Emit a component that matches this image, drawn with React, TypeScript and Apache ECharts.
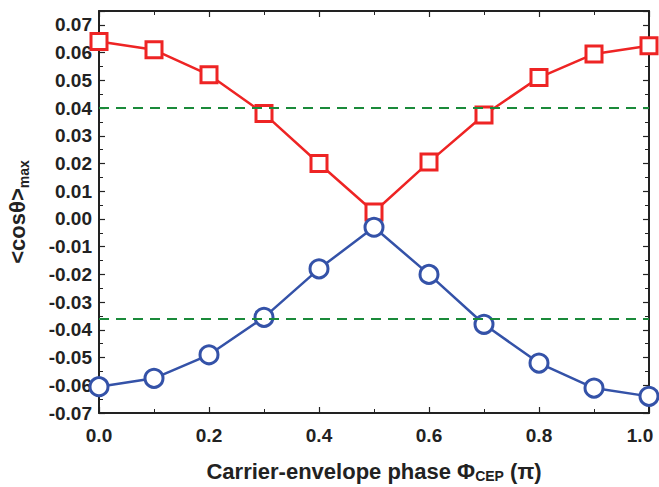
import React, { useEffect, useRef } from "react";
import * as echarts from "echarts";

const phases = [0, 0.1, 0.2, 0.3, 0.4, 0.5, 0.6, 0.7, 0.8, 0.9, 1.0];
const redValues = [0.064, 0.061, 0.052, 0.038, 0.020, 0.0025, 0.0205, 0.0375, 0.051, 0.0595, 0.0625];
const blueValues = [-0.0605, -0.0575, -0.049, -0.0355, -0.018, -0.003, -0.020, -0.038, -0.052, -0.061, -0.064];
const thresholds = [0.040, -0.036];
const xTicks = [0, 0.2, 0.4, 0.6, 0.8, 1.0];

const FONT = "Liberation Sans";

export default function App() {
  const ref = useRef<HTMLDivElement>(null);
  useEffect(() => {
    if (!ref.current) return;
    const chart = echarts.init(ref.current, null, { renderer: "svg" });
    const axisLine = { show: true, onZero: false, lineStyle: { color: "#222", width: 2 } };
    const tick = { show: true, inside: true, length: 6, lineStyle: { color: "#222", width: 1.2 } };
    const minor = { show: true, splitNumber: 2, length: 4, lineStyle: { color: "#222", width: 1 } };
    const labelFont = { fontFamily: FONT, fontWeight: "bold", fontSize: 19, color: "#222" };
    chart.setOption({
      animation: false,
      backgroundColor: "#fff",
      grid: { left: 99, right: 10, top: 11, bottom: 74, outerBoundsMode: "none", containLabel: false },
      xAxis: [
        {
          type: "value",
          min: 0,
          max: 1,
          interval: 0.2,
          axisLine,
          axisTick: tick,
          minorTick: minor,
          splitLine: { show: false },
          axisLabel: {
            formatter: (v: number) => {
              if (!xTicks.some((t) => Math.abs(t - v) < 1e-9)) return "";
              return Math.abs(v - 1) < 1e-9 ? "{m|" + v.toFixed(1) + "}" : v.toFixed(1);
            },
            ...labelFont,
            margin: 13,
            rich: { m: { ...labelFont, padding: [0, 18, 0, 0] } },
          },
          name: "{a|Carrier-envelope phase Φ}{s|CEP}{a| (π)}",
          nameLocation: "middle",
          nameGap: 46,
          nameTextStyle: {
            rich: {
              a: { fontFamily: FONT, fontWeight: "bold", fontSize: 22, color: "#222" },
              s: { fontFamily: FONT, fontWeight: "bold", fontSize: 14, color: "#222", padding: [10, 0, 0, 0] },
            },
          },
        },
        {
          type: "value",
          position: "top",
          min: 0,
          max: 1,
          interval: 0.2,
          axisLine,
          axisTick: tick,
          minorTick: minor,
          splitLine: { show: false },
          axisLabel: { show: false },
        },
      ],
      yAxis: [
        {
          type: "value",
          min: -0.07,
          max: 0.075,
          interval: 0.01,
          axisLine,
          axisTick: tick,
          minorTick: minor,
          splitLine: { show: false },
          axisLabel: {
            showMaxLabel: false,
            formatter: (v: number) => (Math.abs(v - 0.075) < 1e-9 ? "" : v.toFixed(2)),
            ...labelFont,
            margin: 7,
          },
          name: "{a|<cosθ>}{s|max}",
          nameLocation: "middle",
          nameRotate: 90,
          nameGap: 68,
          nameTextStyle: {
            rich: {
              a: { fontFamily: FONT, fontWeight: "bold", fontSize: 22, color: "#222" },
              s: { fontFamily: FONT, fontWeight: "bold", fontSize: 14, color: "#222", padding: [14, 0, 0, 0] },
            },
          },
        },
        {
          type: "value",
          position: "right",
          min: -0.07,
          max: 0.075,
          interval: 0.01,
          axisLine,
          axisTick: tick,
          minorTick: minor,
          splitLine: { show: false },
          axisLabel: { show: false },
        },
      ],
      series: [
        {
          type: "line",
          data: phases.map((p, i) => [p, redValues[i]]),
          symbol: "rect",
          symbolSize: 16,
          lineStyle: { color: "#ee2424", width: 2.5 },
          itemStyle: { color: "#fff", borderColor: "#ee2424", borderWidth: 3 },
          markLine: {
            silent: true,
            symbol: "none",
            precision: 4,
            label: { show: false },
            lineStyle: { color: "#1a8a3a", type: [10, 7], width: 2 },
            data: thresholds.map((t) => ({ yAxis: t })),
          },
          z: 3,
        },
        {
          type: "line",
          data: phases.map((p, i) => [p, blueValues[i]]),
          symbol: "circle",
          symbolSize: 18,
          lineStyle: { color: "#3452a8", width: 2.5 },
          itemStyle: { color: "#fff", borderColor: "#3452a8", borderWidth: 3 },
          z: 4,
        },
      ],
    });
    return () => chart.dispose();
  }, []);
  return <div ref={ref} style={{ position: "fixed", left: 0, top: 0, width: 659, height: 487 }} />;
}
